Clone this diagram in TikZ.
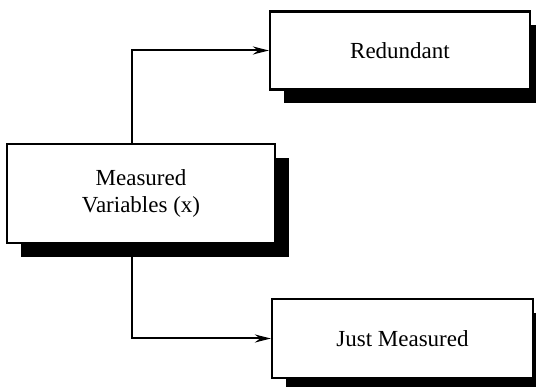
\documentclass[tikz,border=0pt]{standalone}
\usepackage{fontspec}
\setmainfont{Liberation Serif}
\usetikzlibrary{shadows,arrows.meta}
\begin{document}
\begin{tikzpicture}[x=1pt,y=1pt,
  box/.style={draw=black, line width=2.2pt, fill=white, align=center,
    font=\fontsize{23}{27}\selectfont, inner sep=0pt,
    drop shadow={shadow xshift=14pt, shadow yshift=-14pt, fill=black, opacity=1}},
  link/.style={line width=2pt, -{Stealth[length=16pt,width=8pt]}}]
  \useasboundingbox (0,0) rectangle (536,386);
  \node[box, minimum width=268pt, minimum height=99pt] (mv) at (141,192.5) {Measured\\Variables (x)};
  \node[box, minimum width=260pt, minimum height=78pt] (red) at (400,335.5) {Redundant};
  \node[box, minimum width=261pt, minimum height=79pt] (jm) at (402.5,47.5) {Just Measured};
  \coordinate (vx) at (132,0);
  \draw[link] (mv.north -| vx) |- (red.west);
  \draw[link] (mv.south -| vx) |- (jm.west);
\end{tikzpicture}
\end{document}
